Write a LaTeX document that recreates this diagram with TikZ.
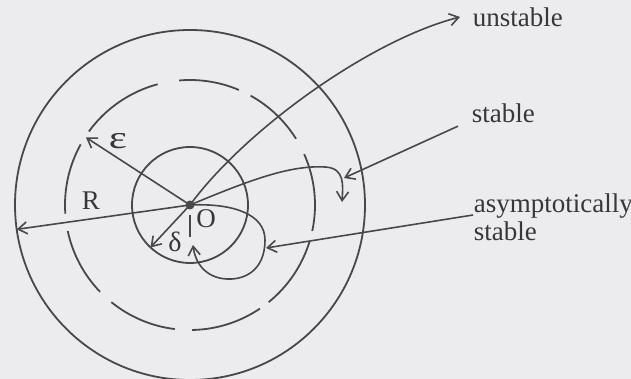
\documentclass[tikz,border=0pt]{standalone}
\usepackage{fontspec}
\usepackage{graphicx}
\setmainfont{Liberation Serif}
\usetikzlibrary{arrows.meta}
\definecolor{paper}{RGB}{236,236,238}
\definecolor{ink}{RGB}{72,72,74}
\definecolor{txt}{RGB}{55,55,57}
\begin{document}
\begin{tikzpicture}[x=0.5pt,y=0.5pt,
  line width=0.9pt, draw=ink,
  every node/.style={inner sep=0pt, text=txt},
  >={Straight Barb[length=4.5pt,width=6pt]},
  lab/.style={font=\fontsize{13.5}{14}\selectfont},
  sym/.style={font=\fontsize{#1}{#1}\selectfont},
  traj/.style={draw=ink, line width=0.8pt}]
\fill[paper] (0,0) rectangle (631,379);
\useasboundingbox (0,0) rectangle (631,379);
\coordinate (O) at (190,174);
% circles
\draw (O) circle (175);
\draw (O) circle (58);
\foreach \a/\b in {-12/24, 32/61, 67/95, 105/144, 151/184, 192/224, 231/263, 271/304, 309/343}
  \draw ([shift={(O)}]\a:125) arc (\a:\b:125);
% radii
\coordinate (tE) at ([shift={(O)}]147:124);
\coordinate (tR) at ([shift={(O)}]188:175);
\coordinate (tD) at ([shift={(O)}]227:58);
\draw[traj,->] (O) -- (tE);
\draw[traj,->] (O) -- (tR);
\draw[traj,->] (O) -- (tD);
\fill[ink] (O) circle (4.5);
% symbol labels
\node[sym=16] (eps) at (118,238) {\scalebox{1.35}[1]{ε}};
\node[sym=13.5] (R) at (91,178) {R};
\node[sym=14] (del) at (175,137) {δ};
\node[sym=13.5] (Olab) at (206,160) {O};
% text labels
\node[lab, anchor=base west] (unst) at (472,352) {unstable};
\node[lab, anchor=base west] (stab) at (471,256) {stable};
\node[lab, anchor=north west, align=left] (asym) at (473,186) {asymptotically\\stable};
% trajectories
\coordinate (tU) at (460,362);
\draw[traj,->] (O) .. controls (245,249) and (370,339) .. (tU);
\coordinate (tS) at (342,177);
\draw[traj,->] (O) .. controls (250,199) and (290,214) .. (325,212)
   .. controls (345,211) and (343,194) .. (tS);
\coordinate (tA) at (193,134);
\draw[traj,->] (O) .. controls (235,176) and (265,164) .. (265,139)
   .. controls (265,109) and (245,99) .. (227,100)
   .. controls (205,101) and (195,117) .. (tA);
\coordinate (v1) at (190,164);
\coordinate (v2) at (190,142);
\draw[traj] (v1) -- (v2);
% pointers
\coordinate (pS) at (344,201);
\coordinate (pA) at (266,131);
\draw[traj,->] ([xshift=-6.5pt,yshift=-1pt]stab.south west) -- (pS);
\draw[traj,->] ([yshift=-11pt]asym.north west) -- (pA);
\end{tikzpicture}
\end{document}
